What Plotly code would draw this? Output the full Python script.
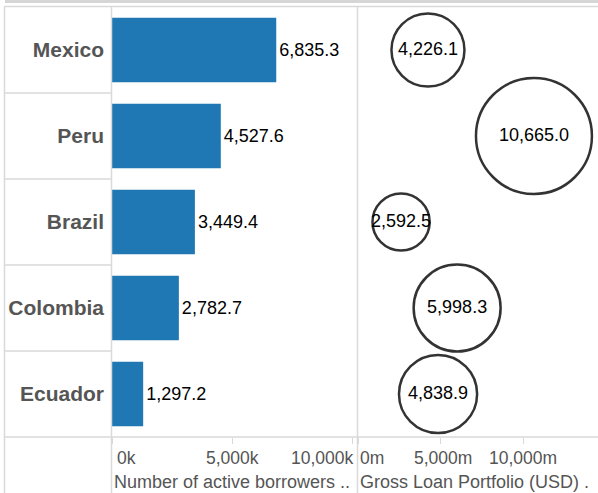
import plotly.graph_objects as go

# ---------------- data ----------------
countries = ["Mexico", "Peru", "Brazil", "Colombia", "Ecuador"]
borrowers_k = [6835.3, 4527.6, 3449.4, 2782.7, 1297.2]          # Number of active borrowers (k)
portfolio_m = [4226.1, 10665.0, 2592.5, 5998.3, 4838.9]          # Gross Loan Portfolio (USD, m)

bar_tick_vals = [0, 5000, 10000]
bar_tick_text = ["0k", "5,000k", "10,000k"]
port_tick_vals = [0, 5000, 10000]
port_tick_text = ["0m", "5,000m", "10,000m"]

bar_title = "Number of active borrowers .."
port_title = "Gross Loan Portfolio (USD) ."

# ---------------- style ----------------
W, H = 598, 493
FONT = "Liberation Sans, Arial, sans-serif"
BLUE = "#1f77b4"
GRID = "#d9d9d9"
GRAY_TXT = "#555555"

def px_x(p):
    return p / W

def px_y(p):
    return 1 - p / H

top_y, bottom_y = 7, 437
label_left, bar_left, bar_right, port_left = 4.5, 112, 357, 358.4

fig = go.Figure()

fig.add_trace(go.Bar(
    x=borrowers_k, y=countries, orientation="h",
    marker=dict(color=BLUE, line=dict(width=0)),
    width=0.75,
    text=[f"{v:,.1f}" for v in borrowers_k],
    textposition="outside",
    textfont=dict(family=FONT, size=18, color="#000000"),
    constraintext="none", cliponaxis=False,
    xaxis="x", yaxis="y", hoverinfo="skip",
))

fig.add_trace(go.Scatter(
    x=portfolio_m, y=countries, mode="markers+text",
    marker=dict(size=portfolio_m, sizemode="area", sizeref=1.586,
                color="rgba(255,255,255,0)", opacity=1,
                line=dict(color="#333333", width=2.5)),
    text=[f"{v:,.1f}" for v in portfolio_m],
    textposition="middle center",
    textfont=dict(family=FONT, size=18, color="#000000"),
    cliponaxis=False,
    xaxis="x2", yaxis="y", hoverinfo="skip",
))

ydom = [px_y(bottom_y), px_y(top_y)]

fig.update_layout(
    width=W, height=H,
    margin=dict(l=0, r=0, t=0, b=0),
    paper_bgcolor="white", plot_bgcolor="white",
    showlegend=False,
    font=dict(family=FONT, color=GRAY_TXT),
    xaxis=dict(domain=[px_x(bar_left), px_x(bar_right)],
               range=[0, (bar_right - bar_left) / 0.02403],
               showgrid=False, zeroline=False, showline=False,
               ticks="outside", tickvals=bar_tick_vals, ticklen=6,
               tickcolor=GRID, tickwidth=1, showticklabels=False,
               fixedrange=True),
    xaxis2=dict(domain=[px_x(port_left), 1],
                range=[0, (W - port_left) / 0.01646],
                anchor="y",
                showgrid=False, zeroline=False, showline=False,
                ticks="outside", tickvals=port_tick_vals, ticklen=6,
                tickcolor=GRID, tickwidth=1, showticklabels=False,
                fixedrange=True),
    yaxis=dict(domain=ydom, type="category",
               categoryorder="array", categoryarray=countries,
               range=[len(countries) - 0.5, -0.5],
               showgrid=False, zeroline=False, showline=False, ticks="",
               tickfont=dict(family=FONT, size=21, color=GRAY_TXT, weight="bold"),
               ticklabelstandoff=7, fixedrange=True),
)

shapes = []
line_style = dict(color=GRID, width=1.5)
# top band and header line
shapes.append(dict(type="rect", xref="paper", yref="paper",
                   x0=px_x(5), x1=1, y0=px_y(3), y1=1,
                   fillcolor="#d6d6d6", line=dict(width=0), layer="above"))
shapes.append(dict(type="line", xref="paper", yref="paper",
                   x0=px_x(label_left), x1=1, y0=px_y(6.5), y1=px_y(6.5),
                   line=line_style))
# vertical dividers
for xp in [label_left, 111.5, 357.5]:
    shapes.append(dict(type="line", xref="paper", yref="paper",
                       x0=px_x(xp), x1=px_x(xp), y0=0, y1=px_y(6.5),
                       line=line_style))
# bottom of panes
shapes.append(dict(type="line", xref="paper", yref="paper",
                   x0=px_x(label_left), x1=1, y0=px_y(bottom_y), y1=px_y(bottom_y),
                   line=line_style))
# row separators in the label column
for i in range(len(countries) - 1):
    shapes.append(dict(type="line", xref="paper", yref="y",
                       x0=px_x(label_left), x1=px_x(111.5), y0=i + 0.5, y1=i + 0.5,
                       line=line_style))
fig.update_layout(shapes=shapes)

# tick labels (Tableau keeps edge labels inside their pane)
annotations = []
tick_y = px_y(458)
anchors = ["left", "center", "right"]
shifts_bar = [3, 0, 4]
shifts_port = [0, 2, 0]
for v, t, a, s in zip(bar_tick_vals, bar_tick_text, anchors, shifts_bar):
    annotations.append(dict(x=v, xref="x", y=tick_y, yref="paper", text=t,
                            showarrow=False, xanchor=a, yanchor="middle", xshift=s,
                            font=dict(family=FONT, size=17.5, color=GRAY_TXT)))
port_anchors = ["left", "center", "center"]
for v, t, a, s in zip(port_tick_vals, port_tick_text, port_anchors, shifts_port):
    annotations.append(dict(x=v, xref="x2", y=tick_y, yref="paper", text=t,
                            showarrow=False, xanchor=a, yanchor="middle", xshift=s,
                            font=dict(family=FONT, size=17.5, color=GRAY_TXT)))
# axis titles
title_y = px_y(482)
annotations.append(dict(x=0, xref="x domain", y=title_y, yref="paper", text=bar_title,
                        showarrow=False, xanchor="left", yanchor="middle", xshift=0,
                        font=dict(family=FONT, size=18, color=GRAY_TXT)))
annotations.append(dict(x=0, xref="x2 domain", y=title_y, yref="paper", text=port_title,
                        showarrow=False, xanchor="left", yanchor="middle", xshift=0,
                        font=dict(family=FONT, size=18, color=GRAY_TXT)))
fig.update_layout(annotations=annotations)

fig.write_html("out.html",
               config={"displayModeBar": False, "staticPlot": True},
               post_script="document.body.style.margin='0';document.body.style.overflow='hidden';")
